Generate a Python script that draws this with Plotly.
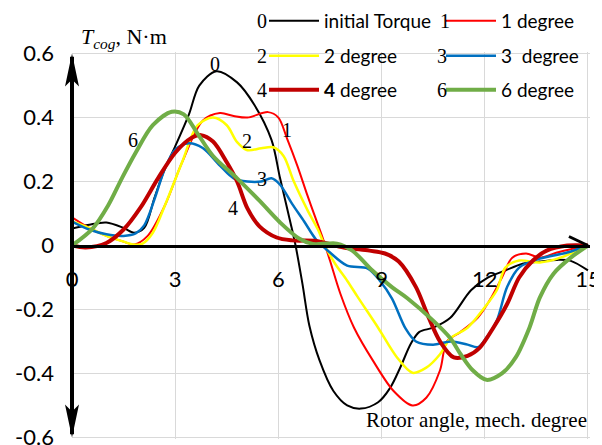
import plotly.graph_objects as go

# ---------------- data ----------------
angle_0 = [0, 0.5, 1.0, 1.5, 1.8, 2.1, 2.4, 2.7, 3.0, 3.4, 3.7, 4.2, 4.8, 5.3, 5.8, 6.05, 6.35, 6.5,
           6.7, 6.9, 7.2, 7.6, 8.0, 8.4, 8.9, 9.25, 9.55, 9.85, 10.1, 10.5, 11.0, 11.6, 12.1, 12.6,
           13.1, 13.6, 14.1, 14.5, 15]
torque_0 = [0.053, 0.065, 0.072, 0.055, 0.04, 0.055, 0.15, 0.24, 0.31, 0.41, 0.5, 0.545, 0.51, 0.44,
            0.33, 0.21, 0.072, 0.0, -0.12, -0.25, -0.36, -0.455, -0.5, -0.51, -0.49, -0.445, -0.38,
            -0.307, -0.27, -0.257, -0.226, -0.14, -0.1, -0.078, -0.057, -0.05, -0.045, -0.048, -0.078]

angle_1 = [0, 0.5, 1.0, 1.5, 1.8, 2.2, 2.7, 3.2, 3.8, 4.3, 4.7, 5.1, 5.7, 6.0, 6.25, 6.55, 6.85, 7.1,
           7.3, 7.5, 7.8, 8.2, 8.75, 9.35, 9.9, 10.3, 10.7, 10.9, 11.3, 11.8, 12.15, 12.5, 12.8, 13.2,
           13.6, 14.1, 15]
torque_1 = [0.088, 0.055, 0.03, 0.012, 0.003, 0.03, 0.125, 0.26, 0.39, 0.414, 0.405, 0.40, 0.417, 0.40,
            0.335, 0.25, 0.155, 0.08, 0.02, -0.047, -0.15, -0.257, -0.36, -0.455, -0.5, -0.476, -0.39,
            -0.3, -0.27, -0.225, -0.17, -0.1, -0.038, -0.025, -0.038, -0.022, 0]

angle_2 = [0, 0.5, 1.0, 1.5, 1.8, 2.05, 2.35, 2.7, 3.2, 3.65, 4.1, 4.5, 4.8, 5.1, 5.5, 5.85, 6.15, 6.45,
           6.85, 7.15, 7.35, 7.65, 8.0, 8.3, 8.9, 9.45, 9.9, 10.3, 10.7, 11.0, 11.5, 11.95, 12.35, 12.6,
           13.0, 13.6, 14.2, 15]
torque_2 = [0.075, 0.055, 0.03, 0.012, 0.003, 0.006, 0.04, 0.125, 0.26, 0.376, 0.40, 0.376, 0.323, 0.298,
            0.304, 0.307, 0.28, 0.2, 0.11, 0.05, 0.0, -0.057, -0.11, -0.16, -0.257, -0.35, -0.398,
            -0.382, -0.34, -0.29, -0.257, -0.2, -0.14, -0.069, -0.047, -0.053, -0.038, 0]

angle_3 = [0, 0.5, 1.0, 1.5, 1.85, 2.1, 2.4, 2.7, 3.0, 3.4, 3.8, 4.3, 4.7, 5.1, 5.5, 5.8, 6.05, 6.4,
           6.75, 7.1, 7.5, 8.0, 8.6, 8.95, 9.3, 9.7, 10.0, 10.5, 11.0, 11.5, 11.8, 12.05, 12.35, 12.65,
           13.0, 13.6, 14.4, 15]
torque_3 = [0.075, 0.05, 0.035, 0.03, 0.038, 0.063, 0.145, 0.24, 0.30, 0.32, 0.305, 0.25, 0.21, 0.2, 0.2,
            0.21, 0.19, 0.13, 0.075, 0.018, -0.022, -0.063, -0.072, -0.11, -0.165, -0.26, -0.3, -0.31,
            -0.3, -0.31, -0.318, -0.288, -0.235, -0.13, -0.069, -0.041, -0.022, 0]

angle_4 = [0, 0.4, 1.0, 1.5, 2.0, 2.5, 3.0, 3.45, 3.75, 4.1, 4.5, 4.8, 5.1, 5.45, 5.95, 6.4, 7.1, 7.9,
           8.65, 9.1, 9.5, 10.0, 10.35, 10.7, 11.1, 11.5, 11.85, 12.25, 12.65, 13.0, 13.4, 13.8, 14.4, 15]
torque_4 = [0, -0.006, 0.008, 0.05, 0.12, 0.21, 0.29, 0.335, 0.345, 0.325, 0.26, 0.2, 0.116, 0.06, 0.025,
            0.016, 0.014, -0.006, -0.016, -0.025, -0.05, -0.13, -0.22, -0.3, -0.35, -0.345, -0.32,
            -0.257, -0.183, -0.1, -0.047, -0.016, 0, 0]

angle_6 = [0, 0.6, 1.05, 1.45, 1.85, 2.35, 2.9, 3.25, 3.65, 4.1, 4.8, 5.45, 6.05, 6.6, 7.0, 7.4, 7.7,
           8.15, 8.7, 9.3, 9.75, 10.5, 11.0, 11.3, 11.65, 12.05, 12.5, 12.9, 13.3, 13.6, 14.0, 14.5, 15]
torque_6 = [0, 0.053, 0.125, 0.21, 0.29, 0.376, 0.418, 0.41, 0.35, 0.28, 0.21, 0.14, 0.072, 0.022,
            0.005, 0.006, 0.006, -0.016, -0.075, -0.13, -0.165, -0.235, -0.29, -0.34, -0.39, -0.42,
            -0.40, -0.35, -0.257, -0.163, -0.088, -0.038, 0]

series_names = ["initial Torque", "1 degree", "2 degree", "3\u00a0 degree", "<b>4</b> degree", "6 degree"]
series_tags = ["0", "1", "2", "3", "4", "6"]
x_ticks = [0, 3, 6, 9, 12, 15]
y_ticks = [-0.6, -0.4, -0.2, 0, 0.2, 0.4, 0.6]
y_tick_labels = ["-0.6", "-0.4", "-0.2", "0", "0.2", "0.4", "0.6"]

# ---------------- styling ----------------
# the page body has an 8px margin, so the figure is drawn 8px in from the window corner
OFF = 8
WIN_W, WIN_H = 602, 445
L, T, RIGHT, BOTTOM = 72, 52, 590, 439       # plot area in window pixels
PW, PH = RIGHT - L, BOTTOM - T
X_RANGE = [0, 15.06]
Y_RANGE = [-0.605, 0.605]

def pxx(p):
    return (p - L) / PW

def pxy(p):
    return (BOTTOM - p) / PH

colors = ["#000000", "#FF0000", "#FFFF00", "#0070C0", "#C00000", "#70AD47"]
widths = [2, 2, 2.5, 2.5, 4, 4]
legends = ["legend", "legend", "legend2", "legend2", "legend3", "legend3"]
angles = [angle_0, angle_1, angle_2, angle_3, angle_4, angle_6]
torques = [torque_0, torque_1, torque_2, torque_3, torque_4, torque_6]

SANS = "Lato"
SERIF = "Liberation Serif"

fig = go.Figure()
for i in range(6):
    fig.add_trace(go.Scatter(
        x=angles[i], y=torques[i], mode="lines", name=series_names[i],
        line=dict(color=colors[i], width=widths[i], shape="spline", smoothing=0.9),
        legend=legends[i], hoverinfo="skip"))

leg_common = dict(orientation="h", xanchor="left", yanchor="middle", entrywidth=112,
                  entrywidthmode="pixels", itemwidth=50, bgcolor="rgba(0,0,0,0)",
                  font=dict(family=SANS, size=19, color="black"), itemclick=False,
                  itemdoubleclick=False)
row_y = [21, 56, 90]
leg_x = pxx(264)

fig.update_layout(
    width=WIN_W - OFF, height=WIN_H - OFF,
    margin=dict(l=L - OFF, r=WIN_W - RIGHT, t=T - OFF, b=WIN_H - BOTTOM, autoexpand=False),
    plot_bgcolor="white", paper_bgcolor="white", showlegend=True,
    xaxis=dict(range=X_RANGE, tickmode="array", tickvals=x_ticks, showgrid=True,
               gridcolor="#D9D9D9", gridwidth=1, zeroline=False, showline=True,
               linecolor="black", linewidth=3, anchor="free", position=0.5,
               ticks="", ticklabelstandoff=13, ticklabeloverflow="allow",
               tickfont=dict(family=SANS, size=22, color="black")),
    yaxis=dict(range=Y_RANGE, tickmode="array", tickvals=y_ticks, ticktext=y_tick_labels,
               showgrid=True, gridcolor="#D9D9D9", gridwidth=1, zeroline=False,
               showline=False, ticks="", ticklabelstandoff=17, ticklabeloverflow="allow",
               tickfont=dict(family=SANS, size=22, color="black")),
    legend=dict(leg_common, x=leg_x, y=pxy(row_y[0])),
    legend2=dict(leg_common, x=leg_x, y=pxy(row_y[1])),
    legend3=dict(leg_common, x=leg_x, y=pxy(row_y[2])),
)

# vertical axis line with arrowheads (paper x so it is not clipped), and the x-axis arrow tip
fig.add_shape(type="line", xref="paper", yref="y", x0=0, x1=0, y0=-0.59, y1=0.59,
              line=dict(color="black", width=4))
fig.add_shape(type="path", xref="paper", yref="y", xsizemode="pixel", ysizemode="pixel",
              xanchor=0, yanchor=0.6, path="M0,0 L-7,-33 L0,-26 L7,-33 Z",
              fillcolor="black", line=dict(width=0))
fig.add_shape(type="path", xref="paper", yref="y", xsizemode="pixel", ysizemode="pixel",
              xanchor=0, yanchor=-0.6, path="M0,0 L-7,33 L0,26 L7,33 Z",
              fillcolor="black", line=dict(width=0))
fig.add_shape(type="path", xref="x", yref="y", xsizemode="pixel", ysizemode="pixel",
              xanchor=15, yanchor=0, path="M-19,9 L0,0",
              line=dict(color="black", width=3))

# legend number prefixes
leg_num_pos = [(262, 21), (445, 21), (262, 56), (442, 56), (262, 90), (442, 90)]
for tag, (px, py) in zip(series_tags, leg_num_pos):
    fig.add_annotation(x=pxx(px), y=pxy(py), xref="paper", yref="paper", text=tag,
                       showarrow=False, xanchor="center", yanchor="middle",
                       font=dict(family=SERIF, size=20, color="black"))

# curve labels
curve_label_pos = [(4.16, 0.567), (6.25, 0.36), (5.09, 0.326), (5.52, 0.207), (4.68, 0.116), (1.77, 0.33)]
for tag, (cx, cy) in zip(series_tags, curve_label_pos):
    fig.add_annotation(x=cx, y=cy, xref="x", yref="y", text=tag, showarrow=False,
                       xanchor="center", yanchor="middle",
                       font=dict(family=SERIF, size=20, color="black"))

# axis titles
fig.add_annotation(x=pxx(79), y=pxy(38), xref="paper", yref="paper",
                   text="<i>T</i><sub><i>cog</i></sub>, N·m", showarrow=False,
                   xanchor="left", yanchor="middle",
                   font=dict(family=SERIF, size=22, color="black"))
fig.add_annotation(x=pxx(589), y=pxy(420), xref="paper", yref="paper",
                   text="Rotor angle, mech. degree", showarrow=False,
                   xanchor="right", yanchor="middle",
                   font=dict(family=SERIF, size=21, color="black"))

fig.write_html("out.html")
